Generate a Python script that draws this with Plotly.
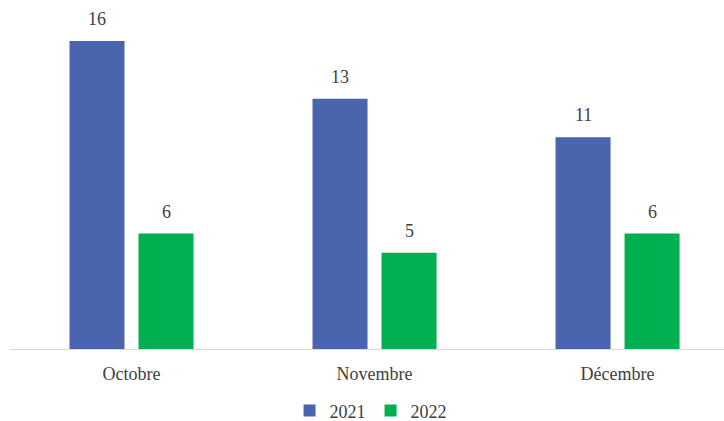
import plotly.graph_objects as go

months = ["Octobre", "Novembre", "Décembre"]
series_names = ["2021", "2022"]
values_2021 = [16, 13, 11]
values_2022 = [6, 5, 6]
colors = ["#4a65ad", "#00b050"]

font_family = "'Times New Roman', 'Liberation Serif', serif"
text_color = "#404040"

fig = go.Figure()
for i, (name, vals, col) in enumerate(zip(series_names, [values_2021, values_2022], colors)):
    fig.add_trace(go.Bar(
        x=months, y=vals, name=name, marker=dict(color=col, line=dict(width=0)),
        offsetgroup=str(i),
    ))

# value labels above each bar
bar_offsets = [-0.142, 0.142]
for off, vals in zip(bar_offsets, [values_2021, values_2022]):
    for j, v in enumerate(vals):
        fig.add_annotation(
            x=j + off, y=v, xref="x", yref="y", text=str(v), showarrow=False,
            yanchor="bottom", yshift=10,
            font=dict(family=font_family, size=18, color=text_color),
        )

fig.update_layout(
    width=724, height=421,
    margin=dict(l=10, r=0, t=0, b=72, autoexpand=False),
    paper_bgcolor="white", plot_bgcolor="white",
    barmode="group", bargap=0.432, bargroupgap=0.203,
    font=dict(family=font_family, size=18, color=text_color),
    showlegend=True,
    legend=dict(orientation="h", x=0.505, xanchor="center",
                yref="container", y=0.024, yanchor="middle",
                font=dict(family=font_family, size=18, color=text_color),
                itemwidth=30, traceorder="normal", tracegroupgap=0),
)
fig.update_xaxes(range=[-0.5, 2.438], showline=True, linecolor="#d9d9d9", linewidth=1,
                 ticks="", ticklabelstandoff=8, showgrid=False,
                 tickfont=dict(family=font_family, size=18, color=text_color))
fig.update_yaxes(range=[0, 18.13], visible=False, showgrid=False, zeroline=False)

fig.write_html("out.html")
